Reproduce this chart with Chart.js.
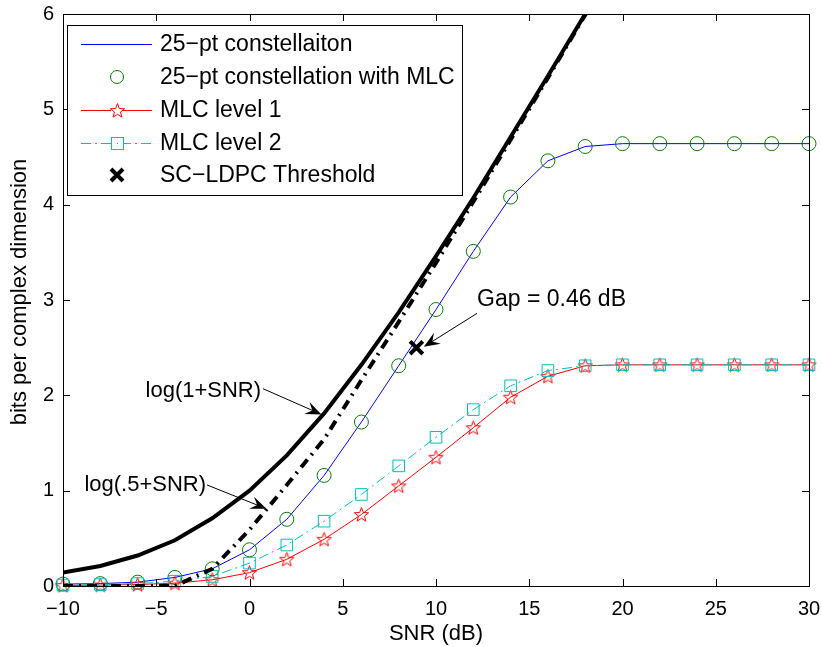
<!DOCTYPE html>
<html lang="en">
<head>
  <meta charset="UTF-8" />
  <title>Bits per complex dimension vs SNR</title>
  <style>
    html, body { margin: 0; padding: 0; background: #fff; }
    #wrap { width: 822px; height: 647px; }
  </style>
</head>
<body>
  <div id="wrap"><canvas id="chart" width="822" height="647"></canvas></div>

  <script src="https://cdn.jsdelivr.net/npm/chart.js"></script>
  <script>
    // SNR grid (dB) shared by every curve
    const snr = [-10, -8, -6, -4, -2, 0, 2, 4, 6, 8, 10, 12, 14, 16, 18, 20, 22, 24, 26, 28, 30];

    // capacity curves (only up to 20 dB, they leave the box at the top)
    const snrCap = [-10, -8, -6, -4, -2, 0, 2, 4, 6, 8, 10, 12, 14, 16, 18, 20];
    const logOnePlus = [0.14, 0.21, 0.32, 0.48, 0.71, 1.0, 1.37, 1.81, 2.32, 2.87, 3.46, 4.07, 4.71, 5.35, 6.0, 6.66];
    const logHalfPlus = [0, 0, 0, 0, 0.18, 0.59, 1.06, 1.54, 2.16, 2.77, 3.39, 4.03, 4.68, 5.33, 5.99, 6.65];

    const constellation25 = [0.02, 0.025, 0.04, 0.09, 0.18, 0.38, 0.70, 1.16, 1.72, 2.31, 2.90, 3.51, 4.08, 4.46, 4.61, 4.64, 4.64, 4.64, 4.64, 4.64, 4.64];
    const mlcLevel1 = [0.005, 0.01, 0.015, 0.03, 0.065, 0.14, 0.28, 0.49, 0.75, 1.05, 1.35, 1.66, 1.98, 2.20, 2.31, 2.32, 2.32, 2.32, 2.32, 2.32, 2.32];
    const mlcLevel2 = [0.01, 0.015, 0.025, 0.05, 0.10, 0.24, 0.43, 0.68, 0.96, 1.26, 1.56, 1.85, 2.10, 2.26, 2.31, 2.32, 2.32, 2.32, 2.32, 2.32, 2.32];

    const threshold = [{ x: 8.95, y: 2.5 }];

    const xTicks = [-10, -5, 0, 5, 10, 15, 20, 25, 30];
    const yTicks = [0, 1, 2, 3, 4, 5, 6];

    const legendLabels = [
      "25\u2212pt constellaiton",
      "25\u2212pt constellation with MLC",
      "MLC level 1",
      "MLC level 2",
      "SC\u2212LDPC Threshold",
    ];

    // text + arrow annotations, in data units: label anchor, arrow tail, arrow tip
    const notes = [
      { text: "log(1+SNR)", size: 22, align: "right", at: [0.62, 2.05], from: [0.72, 2.07], to: [3.86, 1.80] },
      { text: "log(.5+SNR)", size: 22, align: "right", at: [-2.33, 1.06], from: [-2.28, 1.06], to: [0.91, 0.81] },
      { text: "Gap = 0.46 dB", size: 23, align: "left", at: [12.2, 3.0], from: [12.2, 2.86], to: [9.35, 2.51] },
    ];

    const FONT = "'Liberation Sans', Arial, sans-serif";
    const BLUE = "#0000ff", GREEN = "#008000", RED = "#ff0000", CYAN = "#00bfbf";

    const pts = (xs, ys) => xs.map((x, i) => ({ x: x, y: ys[i] }));

    // MATLAB-like pentagram marker
    function pentagram(color, r) {
      const c = document.createElement("canvas");
      const s = 19;
      c.width = s; c.height = s;
      const g = c.getContext("2d");
      g.strokeStyle = color;
      g.lineWidth = 1;
      g.lineJoin = "miter";
      g.beginPath();
      for (let k = 0; k < 10; k++) {
        const rr = k % 2 === 0 ? r : r * 0.42;
        const a = -Math.PI / 2 + k * Math.PI / 5;
        const px = s / 2 + rr * Math.cos(a), py = s / 2 + 0.6 + rr * Math.sin(a);
        if (k === 0) g.moveTo(px, py); else g.lineTo(px, py);
      }
      g.closePath();
      g.stroke();
      return c;
    }
    const starImg = pentagram(RED, 7.5);

    function drawArrow(ctx, x0, y0, x1, y1) {
      const dx = x1 - x0, dy = y1 - y0;
      const len = Math.hypot(dx, dy);
      const ux = dx / len, uy = dy / len, nx = -uy, ny = ux;
      const L = 16, W = 6.5, notch = 6;
      ctx.save();
      ctx.strokeStyle = "#000";
      ctx.fillStyle = "#000";
      ctx.lineWidth = 1;
      ctx.beginPath();
      ctx.moveTo(x0, y0);
      ctx.lineTo(x1 - (L - notch) * ux, y1 - (L - notch) * uy);
      ctx.stroke();
      ctx.beginPath();
      ctx.moveTo(x1, y1);
      ctx.lineTo(x1 - L * ux + W * nx, y1 - L * uy + W * ny);
      ctx.lineTo(x1 - (L - notch) * ux, y1 - (L - notch) * uy);
      ctx.lineTo(x1 - L * ux - W * nx, y1 - L * uy - W * ny);
      ctx.closePath();
      ctx.fill();
      ctx.restore();
    }

    const overlay = {
      id: "overlay",
      afterDatasetsDraw(chart) {
        const ctx = chart.ctx;
        const a = chart.chartArea;
        const xs = chart.scales.x, ys = chart.scales.y;

        // annotations
        ctx.save();
        ctx.fillStyle = "#000";
        ctx.textBaseline = "middle";
        for (const n of notes) {
          ctx.font = n.size + "px " + FONT;
          ctx.textAlign = n.align;
          ctx.fillText(n.text, xs.getPixelForValue(n.at[0]), ys.getPixelForValue(n.at[1]));
          drawArrow(ctx,
            xs.getPixelForValue(n.from[0]), ys.getPixelForValue(n.from[1]),
            xs.getPixelForValue(n.to[0]), ys.getPixelForValue(n.to[1]));
        }
        ctx.restore();

        // box + inward ticks
        ctx.save();
        ctx.strokeStyle = "#000";
        ctx.lineWidth = 1;
        ctx.strokeRect(a.left + 0.5, a.top + 0.5, a.right - a.left, a.bottom - a.top);
        ctx.beginPath();
        for (const t of xTicks) {
          const px = Math.round(xs.getPixelForValue(t)) + 0.5;
          ctx.moveTo(px, a.bottom); ctx.lineTo(px, a.bottom - 7);
          ctx.moveTo(px, a.top); ctx.lineTo(px, a.top + 7);
        }
        for (const t of yTicks) {
          const py = Math.round(ys.getPixelForValue(t)) + 0.5;
          ctx.moveTo(a.left, py); ctx.lineTo(a.left + 7, py);
          ctx.moveTo(a.right, py); ctx.lineTo(a.right - 7, py);
        }
        ctx.stroke();

        // axis titles
        ctx.fillStyle = "#000";
        ctx.font = "22px " + FONT;
        ctx.textAlign = "center";
        ctx.textBaseline = "middle";
        ctx.fillText("SNR (dB)", (a.left + a.right) / 2, 634);
        ctx.translate(20, 292);
        ctx.rotate(-Math.PI / 2);
        ctx.fillText("bits per complex dimension", 0, 0);
        ctx.restore();
      },
      afterDraw(chart) {
        // legend box, top-left inside the axes
        const ctx = chart.ctx;
        const bx = 67, by = 25, bw = 395, bh = 170;
        ctx.save();
        ctx.fillStyle = "#fff";
        ctx.fillRect(bx, by, bw, bh);
        ctx.strokeStyle = "#000";
        ctx.lineWidth = 1;
        ctx.strokeRect(bx + 0.5, by + 0.5, bw, bh);
        const rows = [44, 77, 110, 143, 175];
        const l0 = 81, l1 = 152, mx = 117;
        ctx.font = "23px " + FONT;
        ctx.textBaseline = "middle";
        ctx.textAlign = "left";
        rows.forEach((ry, i) => {
          ctx.fillStyle = "#000";
          ctx.fillText(legendLabels[i], 160, ry + 1);
        });
        // blue line
        ctx.strokeStyle = BLUE; ctx.lineWidth = 1;
        ctx.beginPath(); ctx.moveTo(l0, rows[0] + 0.5); ctx.lineTo(l1, rows[0] + 0.5); ctx.stroke();
        // green circle
        ctx.strokeStyle = GREEN;
        ctx.beginPath(); ctx.arc(mx, rows[1], 6.5, 0, Math.PI * 2); ctx.stroke();
        // red line + star
        ctx.strokeStyle = RED;
        ctx.beginPath(); ctx.moveTo(l0, rows[2] + 0.5); ctx.lineTo(l1, rows[2] + 0.5); ctx.stroke();
        ctx.fillStyle = "#fff";
        ctx.fillRect(mx - 6, rows[2] - 6, 12, 12);
        ctx.drawImage(starImg, Math.round(mx - starImg.width / 2), Math.round(rows[2] - starImg.height / 2));
        // cyan dash-dot + square
        ctx.strokeStyle = CYAN;
        ctx.setLineDash([10, 4, 2, 4]);
        ctx.beginPath(); ctx.moveTo(l0, rows[3] + 0.5); ctx.lineTo(l1, rows[3] + 0.5); ctx.stroke();
        ctx.setLineDash([]);
        ctx.fillStyle = "#fff";
        ctx.fillRect(mx - 5, rows[3] - 5, 11, 11);
        ctx.strokeRect(mx - 5.5, rows[3] - 5.5, 12, 12);
        ctx.fillStyle = CYAN;
        ctx.fillRect(mx, rows[3], 1, 1);
        // black X
        ctx.strokeStyle = "#000"; ctx.lineWidth = 4;
        ctx.beginPath();
        ctx.moveTo(mx - 6, rows[4] - 6); ctx.lineTo(mx + 6, rows[4] + 6);
        ctx.moveTo(mx + 6, rows[4] - 6); ctx.lineTo(mx - 6, rows[4] + 6);
        ctx.stroke();
        ctx.restore();
      },
    };

    new Chart(document.getElementById("chart").getContext("2d"), {
      type: "line",
      data: {
        datasets: [
          {
            label: "log(1+SNR)",
            data: pts(snrCap, logOnePlus),
            borderColor: "#000", borderWidth: 4, pointRadius: 0, order: 1,
          },
          {
            label: "log(.5+SNR)",
            data: pts(snrCap, logHalfPlus),
            borderColor: "#000", borderWidth: 4, pointRadius: 0, order: 2,
            borderDash: [10, 6, 2, 6], borderCapStyle: "butt",
          },
          {
            label: legendLabels[0],
            data: pts(snr, constellation25),
            borderColor: BLUE, borderWidth: 1, pointRadius: 0, order: 6,
          },
          {
            label: legendLabels[1],
            data: pts(snr, constellation25),
            showLine: false, pointStyle: "circle", pointRadius: 7,
            pointBorderColor: GREEN, pointBackgroundColor: "rgba(0,0,0,0)", pointBorderWidth: 1,
            order: 5, clip: 12,
          },
          {
            label: legendLabels[2],
            data: pts(snr, mlcLevel1),
            borderColor: RED, borderWidth: 1, pointStyle: starImg, pointRadius: 7,
            order: 4, clip: 12,
          },
          {
            label: legendLabels[3],
            data: pts(snr, mlcLevel2),
            borderColor: CYAN, borderWidth: 1, borderDash: [10, 4, 2, 4],
            pointStyle: "rect", pointRadius: 8.2, pointBorderColor: CYAN,
            pointBackgroundColor: "rgba(0,0,0,0)", pointBorderWidth: 1,
            order: 3, clip: 12,
          },
          {
            label: legendLabels[4],
            data: threshold,
            showLine: false, pointStyle: "crossRot", pointRadius: 9,
            pointBorderColor: "#000", pointBorderWidth: 4, order: 0,
          },
        ],
      },
      options: {
        responsive: false,
        animation: false,
        layout: { padding: { top: 14, right: 13, left: 0, bottom: 0 } },
        plugins: { legend: { display: false }, tooltip: { enabled: false } },
        scales: {
          x: {
            type: "linear", min: -10, max: 30,
            afterBuildTicks: s => { s.ticks = xTicks.map(v => ({ value: v })); },
            afterFit: s => { s.height = 61; s.paddingLeft = 0; s.paddingRight = 0; },
            grid: { display: false, drawTicks: false },
            border: { display: false },
            ticks: {
              color: "#000", padding: 11, maxRotation: 0,
              font: { family: FONT, size: 20 },
              callback: v => String(v).replace("-", "\u2212"),
            },
          },
          y: {
            type: "linear", min: 0, max: 6,
            afterBuildTicks: s => { s.ticks = yTicks.map(v => ({ value: v })); },
            afterFit: s => { s.width = 63; s.paddingTop = 0; s.paddingBottom = 0; },
            grid: { display: false, drawTicks: false },
            border: { display: false },
            ticks: {
              color: "#000", padding: 9,
              font: { family: FONT, size: 20 },
            },
          },
        },
      },
      plugins: [overlay],
    });
  </script>
</body>
</html>
